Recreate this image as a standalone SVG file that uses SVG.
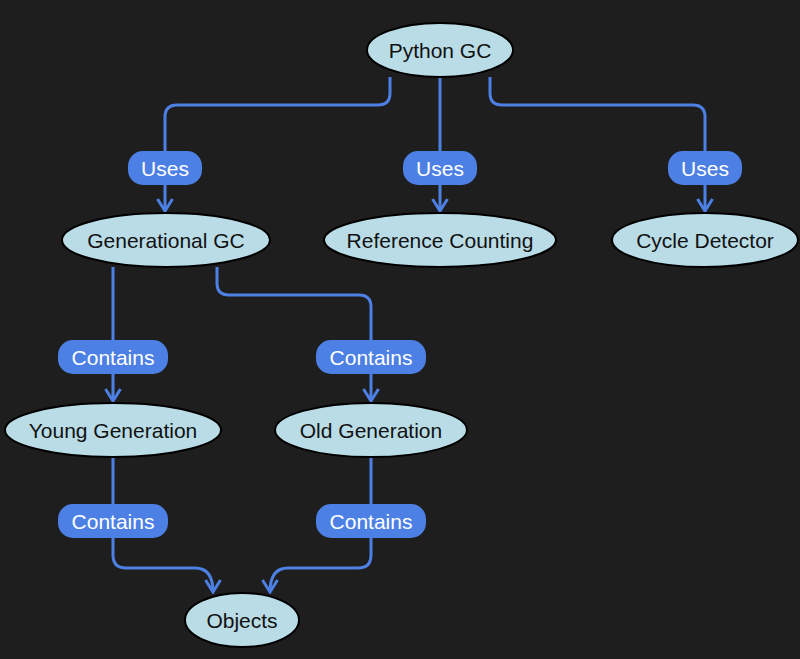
<svg xmlns="http://www.w3.org/2000/svg" width="800" height="659" viewBox="0 0 800 659">
<defs>
<style>
.node ellipse{fill:#b9dce6;stroke:#000;stroke-width:2}
.node text{font-family:"Liberation Sans",Arial,sans-serif;font-size:21px;fill:#111;text-anchor:middle;dominant-baseline:central}
.edge{fill:none;stroke:#4d80e4;stroke-width:3}
.lbl rect{fill:#4d80e4}
.lbl text{font-family:"Liberation Sans",Arial,sans-serif;font-size:21px;fill:#fff;text-anchor:middle;dominant-baseline:central}
</style>
<marker id="arr" viewBox="0 0 16 18" refX="14" refY="9" markerWidth="16" markerHeight="18" markerUnits="userSpaceOnUse" orient="auto">
<path d="M2,1.5 L14,9 L2,16.5" fill="none" stroke="#4d80e4" stroke-width="3" stroke-linejoin="miter"/>
</marker>
</defs>
<rect width="800" height="659" fill="#1e1e1e"/>
<g id="connectors">
<path class="edge" d="M390,77 V93 Q390,105 378,105 H177 Q165,105 165,117 V211" marker-end="url(#arr)"/>
<path class="edge" d="M440,77 V211" marker-end="url(#arr)"/>
<path class="edge" d="M490,77 V93 Q490,105 502,105 H693 Q705,105 705,117 V211" marker-end="url(#arr)"/>
<path class="edge" d="M113,267 V401" marker-end="url(#arr)"/>
<path class="edge" d="M217,267 V283 Q217,295 229,295 H359 Q371,295 371,307 V401" marker-end="url(#arr)"/>
<path class="edge" d="M113,457 V555 Q113,568 126,568 H195 Q213,568 213,592" marker-end="url(#arr)"/>
<path class="edge" d="M371,457 V555 Q371,568 358,568 H288 Q270,568 270,592" marker-end="url(#arr)"/>
<g class="lbl"><rect x="128" y="151" width="74" height="34" rx="15"/><text x="165" y="168">Uses</text></g>
<g class="lbl"><rect x="403" y="151" width="74" height="34" rx="15"/><text x="440" y="168">Uses</text></g>
<g class="lbl"><rect x="668" y="151" width="74" height="34" rx="15"/><text x="705" y="168">Uses</text></g>
<g class="lbl"><rect x="58" y="340" width="110" height="34" rx="15"/><text x="113" y="357">Contains</text></g>
<g class="lbl"><rect x="316" y="340" width="110" height="34" rx="15"/><text x="371" y="357">Contains</text></g>
<g class="lbl"><rect x="58" y="504" width="110" height="34" rx="15"/><text x="113" y="521">Contains</text></g>
<g class="lbl"><rect x="316" y="504" width="110" height="34" rx="15"/><text x="371" y="521">Contains</text></g>
</g>
<g id="python-gc" class="node"><ellipse cx="440" cy="50" rx="73" ry="27"/><text x="440" y="50">Python GC</text></g>
<g id="generational-gc" class="node"><ellipse cx="166" cy="240" rx="104" ry="27"/><text x="166" y="240">Generational GC</text></g>
<g id="reference-counting" class="node"><ellipse cx="440" cy="240" rx="116" ry="27"/><text x="440" y="240">Reference Counting</text></g>
<g id="cycle-detector" class="node"><ellipse cx="705" cy="240" rx="93" ry="27"/><text x="705" y="240">Cycle Detector</text></g>
<g id="young-generation" class="node"><ellipse cx="113" cy="430" rx="108" ry="27"/><text x="113" y="430">Young Generation</text></g>
<g id="old-generation" class="node"><ellipse cx="371" cy="430" rx="96" ry="27"/><text x="371" y="430">Old Generation</text></g>
<g id="objects" class="node"><ellipse cx="242" cy="620" rx="57" ry="27"/><text x="242" y="620">Objects</text></g>
</svg>
